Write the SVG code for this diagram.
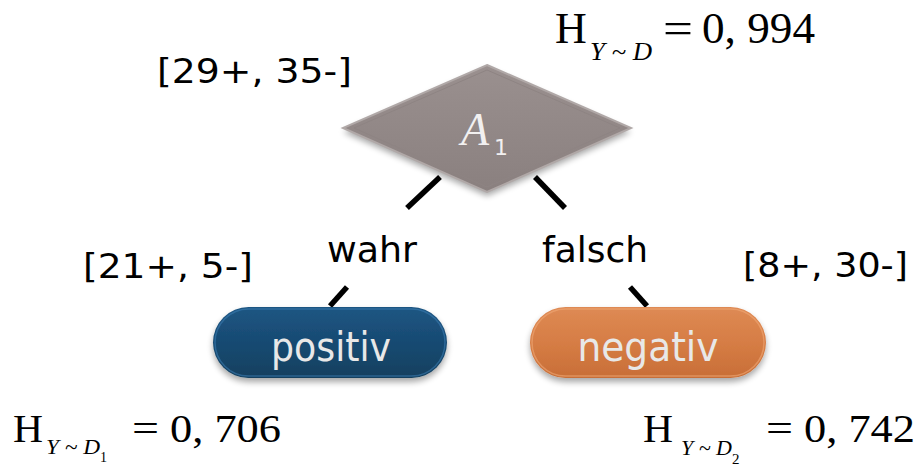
<svg xmlns="http://www.w3.org/2000/svg" width="919" height="466" viewBox="0 0 919 466">
<defs>
<linearGradient id="gDia" x1="0" y1="0" x2="0" y2="1">
<stop offset="0" stop-color="#9a908f"/>
<stop offset="1" stop-color="#8a807f"/>
</linearGradient>
<linearGradient id="gBlue" x1="0" y1="0" x2="0" y2="1">
<stop offset="0" stop-color="#1f5683"/>
<stop offset="0.5" stop-color="#174a72"/>
<stop offset="1" stop-color="#12405f"/>
</linearGradient>
<linearGradient id="gOrange" x1="0" y1="0" x2="0" y2="1">
<stop offset="0" stop-color="#de8a54"/>
<stop offset="0.5" stop-color="#d67d45"/>
<stop offset="1" stop-color="#c86e37"/>
</linearGradient>
<filter id="shadow" x="-20%" y="-20%" width="140%" height="160%">
<feGaussianBlur in="SourceAlpha" stdDeviation="3"/>
<feOffset dx="0" dy="4" result="b"/>
<feComponentTransfer><feFuncA type="linear" slope="0.35"/></feComponentTransfer>
<feMerge><feMergeNode/><feMergeNode in="SourceGraphic"/></feMerge>
</filter>
</defs>
<style>
.lbl{font-family:"DejaVu Sans",sans-serif;font-size:34px;fill:#000}
.edge{font-family:"DejaVu Sans",sans-serif;font-size:36px;fill:#000}
.pill{font-family:"DejaVu Sans",sans-serif;font-size:41px;fill:#e8e8e8}
.m{font-family:"Liberation Serif",serif;fill:#000}
.mi{font-family:"Liberation Serif",serif;font-style:italic;fill:#000}
.conn{stroke:#000;stroke-width:5.5;fill:none}
</style>

<g id="connectors">
<line class="conn" x1="440" y1="177" x2="407" y2="208"/>
<line class="conn" x1="535" y1="177" x2="565" y2="208"/>
<line class="conn" x1="347" y1="287" x2="330" y2="306"/>
<line class="conn" x1="630" y1="287" x2="647" y2="306"/>
</g>

<g id="node-a1">
<polygon points="487,65 631,128 487,192 343,128" fill="url(#gDia)" filter="url(#shadow)"/>
<polygon points="487,65 631,128 487,192 343,128" fill="none" stroke="#b0a8a7" stroke-width="2"/>
<polygon points="487,70 620,128 487,187 354,128" fill="none" stroke="#8e8483" stroke-width="1"/>
<text x="461" y="145" style="font-family:'Liberation Serif',serif;font-style:italic;font-size:46px;fill:#f2f0f0">A</text>
<text x="494" y="155" style="font-family:'DejaVu Sans',sans-serif;font-size:22px;fill:#f2f0f0">1</text>
</g>

<g id="node-positiv">
<rect x="213" y="307" width="234" height="71" rx="35.5" fill="url(#gBlue)" filter="url(#shadow)"/>
<rect x="215" y="309" width="230" height="67" rx="33.5" fill="none" stroke="#3a7bb0" stroke-width="1.5" opacity="0.6"/>
<text class="pill" x="331" y="361" text-anchor="middle" textLength="120" lengthAdjust="spacingAndGlyphs">positiv</text>
</g>

<g id="node-negativ">
<rect x="530" y="307" width="236" height="71" rx="35.5" fill="url(#gOrange)" filter="url(#shadow)"/>
<rect x="532" y="309" width="232" height="67" rx="33.5" fill="none" stroke="#f0a877" stroke-width="1.5" opacity="0.6"/>
<text class="pill" x="648" y="361" text-anchor="middle" textLength="141" lengthAdjust="spacingAndGlyphs">negativ</text>
</g>

<g id="labels">
<text class="lbl" x="157" y="83" textLength="195" lengthAdjust="spacingAndGlyphs">[29+, 35-]</text>
<text class="lbl" x="83" y="278" textLength="170" lengthAdjust="spacingAndGlyphs">[21+, 5-]</text>
<text class="lbl" x="743" y="277" textLength="165" lengthAdjust="spacingAndGlyphs">[8+, 30-]</text>
<text class="edge" x="327" y="262" textLength="90" lengthAdjust="spacingAndGlyphs">wahr</text>
<text class="edge" x="542" y="262" textLength="106" lengthAdjust="spacingAndGlyphs">falsch</text>
</g>

<g id="entropy-top">
<text class="m" x="555" y="43" font-size="44">H</text>
<text class="mi" x="590" y="60" font-size="26" textLength="62" lengthAdjust="spacingAndGlyphs">Y ~ D</text>
<text class="m" x="663" y="43" font-size="44" textLength="30" lengthAdjust="spacingAndGlyphs">=</text>
<text class="m" x="702" y="43" font-size="44" textLength="113" lengthAdjust="spacingAndGlyphs">0, 994</text>
</g>

<g id="entropy-left">
<text class="m" x="13" y="442" font-size="41" textLength="30" lengthAdjust="spacingAndGlyphs">H</text>
<text class="mi" x="46" y="454" font-size="22" textLength="54" lengthAdjust="spacingAndGlyphs">Y ~ D</text>
<text class="m" x="100" y="462" font-size="14">1</text>
<text class="m" x="132" y="442" font-size="41" textLength="27" lengthAdjust="spacingAndGlyphs">=</text>
<text class="m" x="170" y="442" font-size="41" textLength="111" lengthAdjust="spacingAndGlyphs">0, 706</text>
</g>

<g id="entropy-right">
<text class="m" x="643" y="442" font-size="41" textLength="30" lengthAdjust="spacingAndGlyphs">H</text>
<text class="mi" x="681" y="455" font-size="22" textLength="51" lengthAdjust="spacingAndGlyphs">Y ~ D</text>
<text class="m" x="732" y="464" font-size="15">2</text>
<text class="m" x="766" y="442" font-size="41" textLength="27" lengthAdjust="spacingAndGlyphs">=</text>
<text class="m" x="804" y="442" font-size="41" textLength="111" lengthAdjust="spacingAndGlyphs">0, 742</text>
</g>
</svg>
